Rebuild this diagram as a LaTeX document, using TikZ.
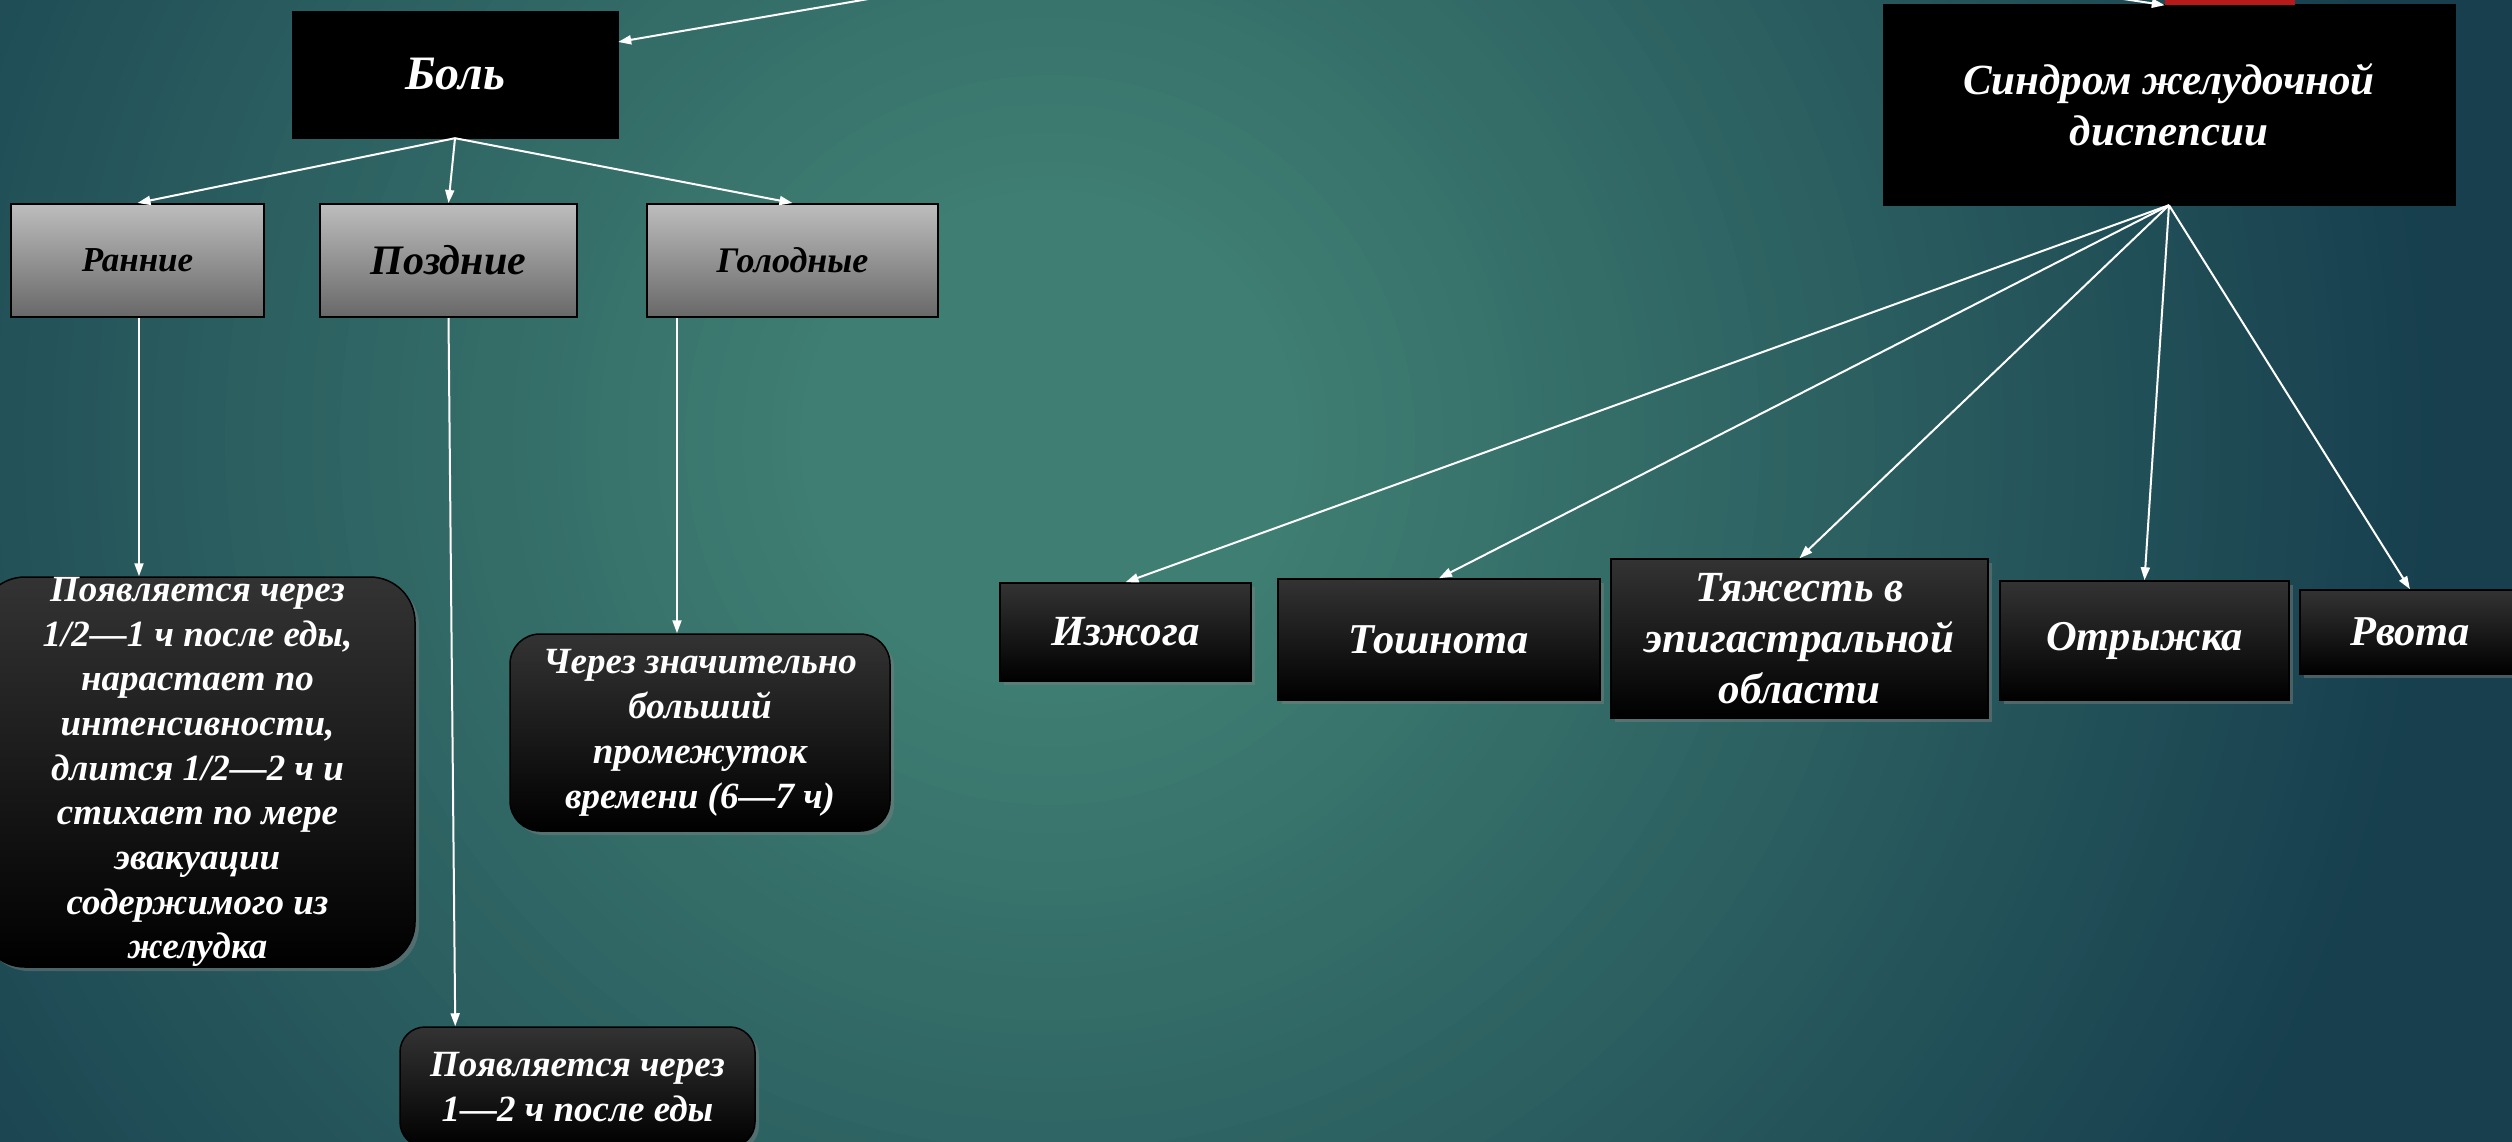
\documentclass[tikz,border=0pt]{standalone}
\usepackage{fontspec}
\setmainfont{Liberation Serif}
\usetikzlibrary{arrows.meta,shadows,calc}
\definecolor{bgin}{HTML}{3F7E72}
\definecolor{bgout}{HTML}{173F4E}
\definecolor{grayA}{HTML}{BDBDBD}
\definecolor{grayB}{HTML}{686868}
\definecolor{redbar}{HTML}{B71A1A}
\newcommand{\fz}[2]{\fontsize{#1}{#2}\selectfont\bfseries\itshape}
\tikzset{
  conn/.style={draw=white, line width=2pt, -{Triangle[length=13pt,width=9pt]}},
  blackbox/.style={fill=black, draw=black, text=white, inner sep=0pt, align=center},
  graybox/.style={top color=grayA, bottom color=grayB, draw=black, line width=2pt, text=black, inner sep=0pt, align=center},
  darkbox/.style={top color=black!80, bottom color=black, draw=black, line width=1.5pt, text=white, inner sep=0pt, align=center,
    drop shadow={opacity=0.45, shadow xshift=4pt, shadow yshift=-4pt}},
}
\begin{document}
\begin{tikzpicture}[x=1pt,y=-1pt]
\useasboundingbox (0,0) rectangle (2512,1141);
\begin{scope}
\clip (-20,-20) rectangle (2532,1161);
\fill[bgout] (-20,-20) rectangle (2532,1161);
\foreach \k in {0,...,80}{
  \pgfmathsetmacro{\rr}{1400-\k*(1150/80)}
  \pgfmathtruncatemacro{\pp}{100*\k/80}
  \fill[bgin!\pp!bgout] (1050,440) circle (\rr);
}
\end{scope}

% top-level boxes
\node[blackbox, minimum width=326, minimum height=127, font=\fz{48}{56}] (bol) at (455,74.5) {Боль};
\node[blackbox, minimum width=572, minimum height=201, font=\fz{43}{51}] (sin) at (2169,104.5) {Синдром желудочной\\диспепсии};
\node[fill=redbar, draw=none, minimum width=130, minimum height=25, inner sep=0pt] (red) at (2230,-7.5) {};

\coordinate (bolsrc) at (880,-3);
\coordinate (redsrc) at (2110,-3);
\draw[conn] (bolsrc) -- ([yshift=32.5]bol.east);
\draw[conn] (redsrc) -- (red.south west);

% pain types
\node[graybox, minimum width=253, minimum height=113, font=\fz{35}{40}] (ran) at (137.5,260.5) {Ранние};
\node[graybox, minimum width=257, minimum height=113, font=\fz{42}{48}] (poz) at (448.5,260.5) {Поздние};
\node[graybox, minimum width=291, minimum height=113, font=\fz{36}{40}] (gol) at (792.5,260.5) {Голодные};

\draw[conn] (bol.south) -- (ran.north);
\draw[conn] (bol.south) -- (poz.north);
\draw[conn] (bol.south) -- (gol.north);

% descriptions
\node[darkbox, rounded corners=45, minimum width=435, minimum height=390, font=\fz{37}{44.7}] (ranT) at (197.5,772)
  {Появляется через\\1/2—1 ч после еды,\\нарастает по\\интенсивности,\\длится 1/2—2 ч и\\стихает по мере\\эвакуации\\содержимого из\\желудка};
\node[darkbox, rounded corners=30, minimum width=380, minimum height=197, font=\fz{37}{45}] (golT) at (700,732.5)
  {Через значительно\\больший\\промежуток\\времени (6—7 ч)};
\node[darkbox, rounded corners=25, minimum width=355, minimum height=120, font=\fz{37}{45}] (pozT) at (577.5,1087)
  {Появляется через\\1—2 ч после еды};

\draw[conn] ([xshift=1.5]ran.south) -- ([xshift=1.5]ran.south |- ranT.north);
\draw[conn] (poz.south) -- ([xshift=56]pozT.north west);
\draw[conn] ([xshift=31]gol.south west) -- ([xshift=31]gol.south west |- golT.north);

% dyspepsia symptoms
\node[darkbox, minimum width=251, minimum height=98, font=\fz{43}{48}] (izh) at (1125.5,632) {Изжога};
\node[darkbox, minimum width=322, minimum height=121, font=\fz{42.5}{48}] (tos) at (1439,639.5) {Тошнота};
\node[darkbox, minimum width=377, minimum height=159, font=\fz{43}{51}] (tya) at (1799.5,638.5) {Тяжесть в\\эпигастральной\\области};
\node[darkbox, minimum width=289, minimum height=119, font=\fz{42.5}{48}] (otr) at (2144.5,640.5) {Отрыжка};
\node[darkbox, minimum width=220, minimum height=84, font=\fz{42.5}{48}] (rvo) at (2410,632) {Рвота};

\draw[conn] (sin.south) -- (izh.north);
\draw[conn] (sin.south) -- (tos.north);
\draw[conn] (sin.south) -- (tya.north);
\draw[conn] (sin.south) -- (otr.north);
\draw[conn] (sin.south) -- (rvo.north);
\end{tikzpicture}
\end{document}
